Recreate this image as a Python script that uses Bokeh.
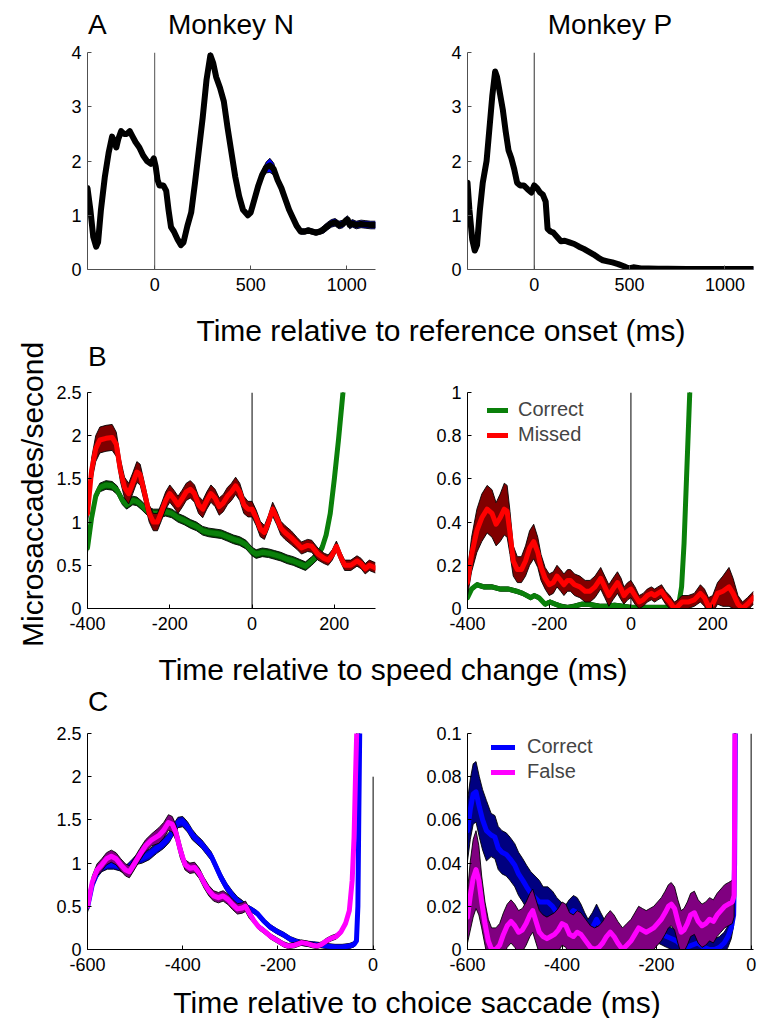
from bokeh.plotting import figure
from bokeh.layouts import row, column
from bokeh.models import Div, FixedTicker, Legend, LegendItem, Range1d
from bokeh.embed import file_html
from bokeh.resources import INLINE
import numpy as np

FONT = "Liberation Sans"

# ---------------- Panel A: time relative to reference onset ----------------
a_n_time = [-350, -335, -320, -305, -295, -280, -260, -240, -222, -210, -200, -190, -175, -160, -145, -130,
            -115, -100, -80, -60, -40, -20, -5, 5, 15, 25, 45, 60, 72, 85, 100, 120, 137, 150, 170, 190, 210,
            230, 250, 270, 290, 305, 320, 340, 360, 380, 400, 420, 440, 460, 485, 500, 520, 540, 560, 580,
            600, 620, 640, 660, 680, 700, 720, 740, 760, 780, 800, 820, 840, 860, 880, 900, 920, 940, 960,
            980, 995, 1005, 1015, 1030, 1050, 1075, 1100, 1125, 1150]
a_n_rate = [1.5, 1.1, 0.6, 0.42, 0.5, 1.1, 1.7, 2.15, 2.45, 2.35, 2.25, 2.4, 2.55, 2.5, 2.5, 2.55,
            2.45, 2.35, 2.25, 2.1, 2.0, 1.95, 2.05, 1.9, 1.65, 1.55, 1.55, 1.45, 1.1, 0.78, 0.7, 0.55, 0.45,
            0.5, 0.8, 1.05, 1.6, 2.2, 2.8, 3.5, 3.95, 3.8, 3.55, 3.35, 3.1, 2.6, 2.15, 1.7, 1.35, 1.1, 1.0,
            1.05, 1.3, 1.55, 1.75, 1.88, 1.92, 1.85, 1.65, 1.5, 1.3, 1.1, 0.95, 0.8, 0.7, 0.7, 0.72, 0.7,
            0.68, 0.7, 0.74, 0.8, 0.85, 0.87, 0.82, 0.84, 0.9, 0.92, 0.82, 0.85, 0.82, 0.84, 0.83, 0.82, 0.82]
a_n_sem = [0.04] * 38 + [0.05, 0.06, 0.07, 0.06, 0.05] + [0.04] * 11 + [0.08, 0.1, 0.13, 0.11, 0.08] + \
          [0.05] * 11 + [0.07] * 15

a_p_time = [-350, -340, -325, -312, -300, -285, -270, -250, -235, -220, -205, -195, -180, -165, -150, -135,
            -120, -105, -90, -75, -55, -35, -15, 0, 15, 30, 45, 60, 70, 85, 100, 120, 140, 160, 185, 210,
            235, 260, 285, 310, 335, 360, 385, 410, 440, 470, 495, 520, 560, 600, 650, 700, 800, 900, 1000,
            1100, 1150]
a_p_rate = [1.6, 1.1, 0.55, 0.35, 0.45, 1.1, 1.6, 2.0, 2.6, 3.2, 3.65, 3.55, 3.25, 2.95, 2.55, 2.2,
            2.05, 1.85, 1.6, 1.55, 1.55, 1.48, 1.42, 1.55, 1.5, 1.42, 1.38, 1.25, 0.75, 0.7, 0.68, 0.6,
            0.52, 0.53, 0.5, 0.47, 0.42, 0.38, 0.33, 0.28, 0.22, 0.17, 0.15, 0.13, 0.1, 0.06, 0.02, 0.04,
            0.02, 0.02, 0.015, 0.015, 0.01, 0.01, 0.01, 0.01, 0.01]
a_p_sem = [0.03] * len(a_p_time)

# ---------------- Panel B: time relative to speed change ----------------
b_n_corr_time = [-400, -390, -380, -370, -355, -340, -328, -315, -305, -290, -280, -270, -255, -240, -225,
                 -210, -195, -180, -165, -150, -135, -120, -105, -90, -75, -60, -45, -30, -15, 0, 10, 25,
                 40, 55, 70, 85, 100, 115, 130, 145, 160, 170, 180, 190, 200, 210, 220, 230, 240]
b_n_corr_rate = [0.7, 1.05, 1.3, 1.4, 1.43, 1.42, 1.37, 1.25, 1.2, 1.25, 1.24, 1.2, 1.13, 1.1, 1.1,
                 1.12, 1.1, 1.05, 1.02, 0.98, 0.95, 0.9, 0.88, 0.87, 0.86, 0.83, 0.8, 0.78, 0.74, 0.66,
                 0.63, 0.65, 0.64, 0.62, 0.6, 0.57, 0.55, 0.52, 0.49, 0.55, 0.62, 0.7, 0.85, 1.1, 1.5,
                 1.95, 2.45, 3.0, 3.6]
b_n_corr_sem = [0.05] * len(b_n_corr_time)

b_n_miss_time = [-400, -390, -380, -370, -355, -340, -330, -320, -310, -300, -290, -280, -272, -262, -250,
                 -240, -230, -220, -210, -200, -190, -180, -170, -160, -150, -140, -130, -120, -110, -100,
                 -90, -80, -70, -60, -50, -40, -30, -20, -10, 0, 10, 20, 30, 40, 50, 60, 70, 80, 95, 110,
                 120, 135, 145, 160, 175, 185, 195, 205, 215, 225, 240, 255, 265, 275, 285, 295, 300]
b_n_miss_rate = [1.1, 1.6, 1.85, 1.95, 1.97, 1.98, 1.9, 1.6, 1.4, 1.33, 1.45, 1.58, 1.55, 1.35, 1.1,
                 1.0, 1.0, 1.12, 1.25, 1.33, 1.27, 1.2, 1.27, 1.35, 1.38, 1.33, 1.2, 1.15, 1.25, 1.33,
                 1.28, 1.18, 1.22, 1.3, 1.35, 1.42, 1.35, 1.2, 1.15, 1.15, 1.05, 0.92, 0.88, 1.0, 1.15,
                 1.05, 0.93, 0.88, 0.82, 0.75, 0.7, 0.73, 0.72, 0.63, 0.58, 0.56, 0.62, 0.72, 0.6, 0.5,
                 0.5, 0.55, 0.52, 0.46, 0.5, 0.48, 0.47]
b_n_miss_sem = [0.12, 0.14, 0.15, 0.15, 0.15, 0.15, 0.14, 0.13, 0.12, 0.12, 0.12, 0.12, 0.12, 0.11, 0.1,
                0.1, 0.1, 0.1, 0.1, 0.1, 0.1, 0.1, 0.1, 0.1, 0.1, 0.1, 0.1, 0.1, 0.1, 0.1,
                0.1, 0.1, 0.1, 0.1, 0.1, 0.1, 0.1, 0.1, 0.09, 0.09, 0.09, 0.09, 0.08, 0.08, 0.08,
                0.08, 0.08, 0.08, 0.08, 0.07, 0.07, 0.07, 0.07, 0.07, 0.06, 0.06, 0.06, 0.06, 0.06, 0.06,
                0.06, 0.06, 0.06, 0.06, 0.06, 0.06, 0.06]

b_p_corr_time = [-400, -390, -377, -360, -340, -320, -300, -280, -265, -255, -245, -237, -225, -210, -198,
                 -185, -170, -155, -140, -120, -105, -90, -75, -60, -40, -20, 0, 30, 60, 90, 110, 118, 124,
                 130, 136, 142, 148]
b_p_corr_rate = [0.05, 0.09, 0.11, 0.1, 0.1, 0.09, 0.09, 0.08, 0.07, 0.06, 0.05, 0.06, 0.05, 0.02, 0.03,
                 0.02, 0.01, 0.005, 0.01, 0.02, 0.02, 0.015, 0.01, 0.01, 0.015, 0.01, 0.005, 0.005, 0.005,
                 0.005, 0.01, 0.03, 0.1, 0.3, 0.6, 0.9, 1.2]
b_p_corr_sem = [0.01] * len(b_p_corr_time)

b_p_miss_time = [-400, -390, -377, -365, -352, -340, -330, -320, -310, -303, -296, -288, -278, -268, -258,
                 -248, -238, -228, -220, -210, -200, -190, -181, -172, -164, -155, -148, -138, -125, -112,
                 -100, -88, -74, -64, -54, -44, -33, -24, -17, -8, 0, 10, 20, 30, 40, 50, 58, 66, 75, 85,
                 95, 106, 115, 125, 140, 155, 170, 180, 190, 200, 212, 225, 240, 250, 262, 273, 285, 295, 300]
b_p_miss_rate = [0.12, 0.25, 0.36, 0.42, 0.46, 0.44, 0.39, 0.42, 0.46, 0.45, 0.35, 0.22, 0.18, 0.18, 0.22,
                 0.28, 0.31, 0.26, 0.19, 0.14, 0.11, 0.12, 0.15, 0.13, 0.11, 0.13, 0.13, 0.11, 0.1, 0.08,
                 0.08, 0.1, 0.14, 0.1, 0.06, 0.09, 0.12, 0.09, 0.06, 0.08, 0.09, 0.06, 0.03, 0.04, 0.06,
                 0.07, 0.06, 0.07, 0.08, 0.05, 0.03, 0.0, 0.01, 0.03, 0.03, 0.04, 0.07, 0.05, 0.01, 0.02,
                 0.07, 0.08, 0.1, 0.07, 0.02, 0.0, 0.02, 0.04, 0.05]
b_p_miss_sem = [0.06, 0.08, 0.1, 0.11, 0.11, 0.11, 0.1, 0.11, 0.12, 0.12, 0.1, 0.07, 0.06, 0.06, 0.07,
                0.08, 0.08, 0.07, 0.06, 0.05, 0.05, 0.05, 0.05, 0.05, 0.05, 0.05, 0.05, 0.05, 0.05, 0.05,
                0.05, 0.05, 0.05, 0.05, 0.05, 0.05, 0.05, 0.05, 0.04, 0.04, 0.04, 0.04, 0.03, 0.03, 0.03,
                0.03, 0.03, 0.03, 0.03, 0.03, 0.03, 0.03, 0.03, 0.03, 0.03, 0.03, 0.04, 0.04, 0.04, 0.04,
                0.05, 0.07, 0.09, 0.07, 0.04, 0.03, 0.03, 0.03, 0.03]

# ---------------- Panel C: time relative to choice saccade ----------------
c_n_corr_time = [-600, -590, -580, -570, -558, -545, -532, -520, -510, -500, -485, -470, -455, -440, -428,
                 -418, -410, -400, -390, -380, -370, -360, -350, -340, -330, -320, -308, -296, -285, -275,
                 -265, -255, -244, -230, -216, -202, -188, -174, -160, -145, -125, -110, -97, -80, -65,
                 -50, -40, -35, -32, -30, -28, -26]
c_n_corr_rate = [0.49, 0.75, 0.88, 0.95, 0.98, 0.98, 0.96, 0.92, 0.97, 1.03, 1.06, 1.1, 1.17, 1.23, 1.3,
                 1.4, 1.47, 1.48, 1.42, 1.33, 1.27, 1.22, 1.15, 1.08, 0.96, 0.84, 0.72, 0.63, 0.56, 0.52,
                 0.49, 0.46, 0.42, 0.33, 0.26, 0.21, 0.17, 0.12, 0.09, 0.07, 0.06, 0.05, 0.04, 0.03, 0.03,
                 0.04, 0.06, 0.1, 0.5, 1.6, 2.6, 3.2]
c_n_corr_sem = [0.05] * 10 + [0.06] * 10 + [0.05] * 10 + [0.03] * 22

c_n_false_time = [-600, -590, -580, -570, -560, -550, -540, -530, -520, -512, -503, -490, -478, -465, -450,
                  -440, -430, -422, -414, -405, -395, -385, -375, -365, -355, -345, -335, -325, -315, -305,
                  -295, -285, -275, -268, -260, -250, -240, -228, -215, -200, -188, -178, -165, -150, -140,
                  -128, -118, -108, -98, -88, -78, -68, -58, -50, -44, -40, -37, -34, -31]
c_n_false_rate = [0.5, 0.78, 0.92, 0.98, 1.05, 1.08, 1.05, 0.98, 0.92, 0.9, 0.98, 1.1, 1.2, 1.27, 1.32,
                  1.38, 1.47, 1.45, 1.35, 1.15, 0.98, 0.94, 0.95, 0.88, 0.77, 0.68, 0.62, 0.6, 0.62, 0.58,
                  0.52, 0.47, 0.48, 0.5, 0.42, 0.33, 0.26, 0.21, 0.15, 0.1, 0.06, 0.04, 0.05, 0.08, 0.07,
                  0.05, 0.04, 0.06, 0.1, 0.13, 0.15, 0.2, 0.3, 0.45, 0.8, 1.3, 2.0, 2.6, 3.2]
c_n_false_sem = [0.07] * 14 + [0.09] * 6 + [0.06] * 15 + [0.03] * 24

c_p_corr_time = [-600, -594, -588, -582, -575, -568, -560, -550, -542, -535, -527, -518, -510, -500, -492,
                 -483, -475, -466, -457, -448, -440, -430, -420, -411, -402, -394, -385, -376, -368, -360,
                 -352, -345, -336, -327, -318, -306, -295, -285, -275, -267, -258, -250, -241, -232, -222,
                 -214, -205, -197, -188, -179, -168, -158, -148, -137, -125, -113, -100, -88, -77, -67,
                 -57, -49, -42, -37, -35, -34, -33]
c_p_corr_rate = [0.055, 0.065, 0.072, 0.073, 0.066, 0.06, 0.055, 0.053, 0.052, 0.047, 0.045, 0.044, 0.042,
                 0.039, 0.035, 0.032, 0.029, 0.026, 0.024, 0.022, 0.022, 0.022, 0.02, 0.017, 0.015, 0.013,
                 0.016, 0.018, 0.017, 0.014, 0.01, 0.007, 0.01, 0.014, 0.01, 0.007, 0.006, 0.005, 0.004,
                 0.004, 0.006, 0.007, 0.01, 0.012, 0.012, 0.011, 0.01, 0.008, 0.007, 0.006, 0.005, 0.004,
                 0.002, 0.001, 0.002, 0.003, 0.001, 0.0, 0.0, 0.001, 0.003, 0.006, 0.01, 0.016, 0.04,
                 0.08, 0.12]
c_p_corr_sem = [0.014] * 7 + [0.01] * 13 + [0.007] * 15 + [0.005] * 32

c_p_false_time = [-600, -594, -588, -582, -576, -570, -563, -556, -549, -540, -532, -524, -516, -508, -500,
                  -492, -484, -476, -468, -462, -455, -448, -440, -432, -424, -416, -408, -400, -392, -384,
                  -376, -368, -360, -350, -340, -331, -322, -314, -306, -298, -290, -282, -272, -263, -254,
                  -246, -238, -230, -222, -214, -206, -198, -190, -182, -175, -169, -162, -155, -148, -142,
                  -135, -128, -120, -112, -104, -96, -88, -80, -72, -64, -56, -48, -40, -36, -35, -34]
c_p_false_rate = [0.015, 0.025, 0.033, 0.037, 0.032, 0.022, 0.012, 0.004, 0.0, 0.0, 0.002, 0.007, 0.011,
                  0.013, 0.011, 0.008, 0.009, 0.012, 0.016, 0.018, 0.013, 0.008, 0.006, 0.005, 0.006, 0.007,
                  0.009, 0.012, 0.011, 0.007, 0.006, 0.008, 0.007, 0.004, 0.001, 0.0, 0.001, 0.003, 0.006,
                  0.008, 0.006, 0.003, 0.0, 0.002, 0.004, 0.007, 0.01, 0.009, 0.008, 0.009, 0.01, 0.012,
                  0.014, 0.017, 0.02, 0.021, 0.019, 0.013, 0.008, 0.009, 0.012, 0.016, 0.017, 0.013, 0.011,
                  0.012, 0.014, 0.013, 0.016, 0.018, 0.02, 0.021, 0.022, 0.025, 0.06, 0.12]
c_p_false_sem = [0.012, 0.016, 0.018, 0.018, 0.016, 0.012] + [0.01] * 70

# ---------------- ticks ----------------
a_xticks = [0, 500, 1000]
a_yticks = [0, 1, 2, 3, 4]
a_ylabels = ["0", "1", "2", "3", "4"]
b_xticks = [-400, -200, 0, 200]
b_n_yticks = [0, 0.5, 1, 1.5, 2, 2.5]
b_n_ylabels = ["0", "0.5", "1", "1.5", "2", "2.5"]
b_p_yticks = [0, 0.2, 0.4, 0.6, 0.8, 1]
b_p_ylabels = ["0", "0.2", "0.4", "0.6", "0.8", "1"]
c_xticks = [-600, -400, -200, 0]
c_n_yticks = [0, 0.5, 1, 1.5, 2, 2.5]
c_n_ylabels = ["0", "0.5", "1", "1.5", "2", "2.5"]
c_p_yticks = [0, 0.02, 0.04, 0.06, 0.08, 0.1]
c_p_ylabels = ["0", "0.02", "0.04", "0.06", "0.08", "0.1"]

LEFT_COL = 48


def make_fig(width, height, mbl, mbr, mbt, mbb, xr, yr, xticks, yticks, ylabels, axis_color="black"):
    p = figure(width=width, height=height, x_range=Range1d(*xr), y_range=Range1d(*yr),
               output_backend="svg", toolbar_location=None,
               min_border_left=mbl, min_border_right=mbr, min_border_top=mbt, min_border_bottom=mbb)
    p.xgrid.visible = False
    p.ygrid.visible = False
    p.outline_line_color = None
    for ax in (p.xaxis[0], p.yaxis[0]):
        ax.axis_line_color = axis_color
        ax.axis_line_width = 1
        ax.major_tick_line_color = axis_color
        ax.major_tick_in = 4
        ax.major_tick_out = 0
        ax.minor_tick_line_color = None
        ax.major_label_text_font = FONT
        ax.major_label_text_font_size = "18px"
        ax.major_label_text_color = "black"
    p.xaxis[0].major_label_standoff = 8
    p.yaxis[0].major_label_standoff = 6
    p.xaxis[0].ticker = FixedTicker(ticks=xticks)
    p.xaxis[0].major_label_overrides = {t: str(t) for t in xticks}
    p.yaxis[0].ticker = FixedTicker(ticks=yticks)
    p.yaxis[0].major_label_overrides = {t: s for t, s in zip(yticks, ylabels)}
    return p


def band(p, x, m, s, band_color, line_color, lw=5):
    m = np.array(m, dtype=float)
    s = np.array(s, dtype=float)
    lo, hi = m - s, m + s
    p.varea(x=x, y1=lo, y2=hi, fill_color=band_color, fill_alpha=1)
    p.line(x, lo, line_color="black", line_width=0.9)
    p.line(x, hi, line_color="black", line_width=0.9)
    return p.line(x, m, line_color=line_color, line_width=lw, line_join="round", line_cap="round")


def zero_line(p, ytop, color="black"):
    p.line([0, 0], [0, ytop], line_color=color, line_width=1)


def legend(p, items, vx, top_gap, gw, standoff, frame_h=216):
    # tuple location = (left offset, bottom of legend measured from frame bottom)
    n = len(items)
    leg_h = n * 20 + (n - 1) * 2
    lg = Legend(items=[LegendItem(label=l, renderers=[r]) for l, r in items],
                location=(vx, frame_h - top_gap - leg_h),
                border_line_color=None, background_fill_alpha=0, padding=0, margin=0, spacing=2,
                glyph_width=gw, glyph_height=20, label_height=20, label_standoff=standoff,
                label_text_font=FONT, label_text_font_size="20px")
    p.add_layout(lg)


# Row A
pa1 = make_fig(380 - LEFT_COL, 258, 87 - LEFT_COL, 5, 10, 31, (-350, 1150), (0, 4), a_xticks, a_yticks,
               a_ylabels, "#505050")
zero_line(pa1, 4, "#505050")
band(pa1, a_n_time, a_n_rate, a_n_sem, "#0000ff", "black", lw=6)
pa2 = make_fig(379, 258, 87, 6, 10, 31, (-350, 1150), (0, 4), a_xticks, a_yticks, a_ylabels, "#505050")
zero_line(pa2, 4, "#303030")
band(pa2, a_p_time, a_p_rate, a_p_sem, "#0000ff", "black", lw=6)

# Row B
pb1 = make_fig(380 - LEFT_COL, 260, 87 - LEFT_COL, 5, 12, 32, (-400, 300), (0, 2.5), b_xticks, b_n_yticks,
               b_n_ylabels)
zero_line(pb1, 2.5)
band(pb1, b_n_corr_time, b_n_corr_rate, b_n_corr_sem, "#005000", "#0a800a")
band(pb1, b_n_miss_time, b_n_miss_rate, b_n_miss_sem, "#800000", "#ff0000")
pb2 = make_fig(379, 260, 87, 6, 12, 32, (-400, 300), (0, 1), b_xticks, b_p_yticks, b_p_ylabels)
zero_line(pb2, 1)
g = band(pb2, b_p_corr_time, b_p_corr_rate, b_p_corr_sem, "#005000", "#0a800a")
r = band(pb2, b_p_miss_time, b_p_miss_rate, b_p_miss_sem, "#800000", "#ff0000")
legend(pb2, [("Correct", g), ("Missed", r)], 20, 12, 21, 10)

# Row C
pc1 = make_fig(380 - LEFT_COL, 265, 87 - LEFT_COL, 5, 13, 36, (-600, 5), (0, 2.5), c_xticks, c_n_yticks,
               c_n_ylabels)
zero_line(pc1, 2)
band(pc1, c_n_corr_time, c_n_corr_rate, c_n_corr_sem, "#0000c8", "#0000ff")
band(pc1, c_n_false_time, c_n_false_rate, c_n_false_sem, "#800080", "#ff00ff")
pc2 = make_fig(379, 265, 87, 6, 13, 36, (-600, 5), (0, 0.1), c_xticks, c_p_yticks, c_p_ylabels)
zero_line(pc2, 0.1)
b = band(pc2, c_p_corr_time, c_p_corr_rate, c_p_corr_sem, "#000080", "#0000ff")
m = band(pc2, c_p_false_time, c_p_false_rate, c_p_false_sem, "#800080", "#ff00ff")
legend(pc2, [("Correct", b), ("False", m)], 24, 8, 24, 12)


def text_div(width, height, items):
    parts = []
    for txt, x, baseline, fs, centered in items:
        top = baseline - 0.8465 * fs
        tr = "transform:translateX(-50%);" if centered else ""
        parts.append(
            f'<div style="position:absolute;left:{x}px;top:{top:.1f}px;font-family:\'{FONT}\';'
            f'font-size:{fs}px;line-height:1;white-space:nowrap;color:black;{tr}">{txt}</div>')
    html = f'<div style="position:relative;width:{width}px;height:{height}px;">{"".join(parts)}</div>'
    return Div(text=html, width=width, height=height, margin=0)


W = 759 - LEFT_COL
d1 = text_div(W, 42, [("A", 88 - LEFT_COL, 35, 28, False),
                      ("Monkey N", 231 - LEFT_COL, 35, 28, True),
                      ("Monkey P", 610 - LEFT_COL, 35, 28, True)])
d2 = text_div(W, 80, [("Time relative to reference onset (ms)", 441 - LEFT_COL, 41, 30, True),
                      ("B", 88 - LEFT_COL, 67, 28, False)])
d3 = text_div(W, 80, [("Time relative to speed change (ms)", 393 - LEFT_COL, 40, 30, True),
                      ("C", 88 - LEFT_COL, 72, 28, False)])
d4 = text_div(W, 33, [("Time relative to choice saccade (ms)", 417 - LEFT_COL, 28, 30, True)])

ylab_html = (f'<div style="position:relative;width:{LEFT_COL}px;height:1018px;">'
             f'<div style="position:absolute;left:{43 - 0.8465 * 30:.1f}px;top:647px;transform-origin:0 0;'
             f'transform:rotate(-90deg);font-family:\'{FONT}\';font-size:30px;line-height:1;'
             f'white-space:nowrap;color:black;">Microsaccades/second</div></div>')
ylab = Div(text=ylab_html, width=LEFT_COL, height=1018, margin=0)

grid = column(d1, row(pa1, pa2), d2, row(pb1, pb2), d3, row(pc1, pc2), d4)
layout = row(ylab, grid)

open("out.html", "w").write(file_html(layout, INLINE))
